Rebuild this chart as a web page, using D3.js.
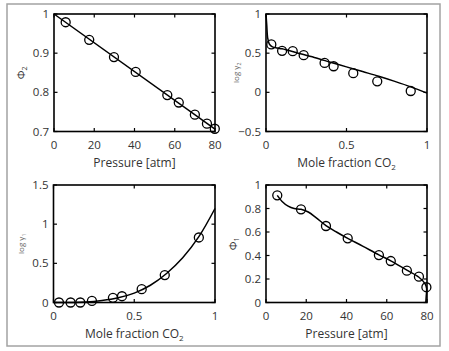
<!DOCTYPE html>
<html><head><meta charset="utf-8">
<script src="https://cdn.jsdelivr.net/npm/d3@7"></script>
<style>body{margin:0;background:#fff}svg{display:block}</style>
</head><body>
<svg id="c" width="449" height="351"></svg>
<script>
// Panel A: phi2 vs pressure
const pA_px = [5.8, 17.5, 29.8, 40.6, 56.3, 62, 70, 76, 79.9];
const pA_py = [0.979, 0.934, 0.890, 0.852, 0.793, 0.774, 0.743, 0.720, 0.707];
const pA_lx = [0, 80];
const pA_ly = [1.0, 0.706];
// Panel B: log gamma2 vs mole fraction
const pB_px = [0.033, 0.10, 0.166, 0.234, 0.364, 0.42, 0.542, 0.691, 0.899];
const pB_py = [0.612, 0.53, 0.526, 0.474, 0.376, 0.333, 0.244, 0.141, 0.017];
const pB_lx = [0, 0.005, 0.01, 0.02, 0.04, 0.07, 0.1, 0.2, 0.3, 0.4, 0.5, 0.6, 0.7, 0.8, 0.9, 1.0];
const pB_ly = [1.0, 0.85, 0.7, 0.62, 0.58, 0.565, 0.555, 0.50, 0.445, 0.385, 0.325, 0.265, 0.205, 0.14, 0.07, -0.01];
// Panel C: log gamma1 vs mole fraction
const pC_px = [0.034, 0.106, 0.166, 0.238, 0.368, 0.424, 0.546, 0.689, 0.90];
const pC_py = [0.0, 0.0, 0.0, 0.02, 0.06, 0.08, 0.17, 0.35, 0.83];
const pC_lx = [0, 0.1, 0.2, 0.3, 0.4, 0.5, 0.6, 0.7, 0.8, 0.9, 1.0];
const pC_ly = [0, 0.0, 0.005, 0.025, 0.06, 0.12, 0.22, 0.37, 0.57, 0.84, 1.2];
// Panel D: phi1 vs pressure
const pD_px = [5.6, 17.4, 29.8, 40.6, 56.1, 62, 70, 76, 79.7];
const pD_py = [0.912, 0.793, 0.651, 0.546, 0.404, 0.353, 0.271, 0.22, 0.13];
const pD_lx = [5.6, 8, 11, 14, 17.4, 21, 25, 29.8, 35, 40.6, 48, 56.1, 62, 70, 76, 79, 79.8, 79.6, 79.4];
const pD_ly = [0.912, 0.86, 0.82, 0.80, 0.793, 0.77, 0.72, 0.655, 0.60, 0.546, 0.48, 0.405, 0.355, 0.275, 0.215, 0.16, 0.12, 0.05, 0.0];

const ticksP = [0, 20, 40, 60, 80];
const ticksMF = [0, 0.5, 1];
const ticksA_y = [0.7, 0.8, 0.9, 1];
const ticksB_y = [-0.5, 0, 0.5, 1];
const ticksC_y = [0, 0.5, 1, 1.5];
const ticksD_y = [0, 0.2, 0.4, 0.6, 0.8, 1];

const svg = d3.select("#c");
const FONT = "'Open Sans', sans-serif";

svg.append("rect").attr("x", 7).attr("y", 4).attr("width", 433).attr("height", 342)
  .attr("fill", "none").attr("stroke", "#a3a3a3").attr("stroke-width", 1.5);

const fmt = v => (v < 0 ? "\u2212" : "") + String(Math.abs(v));

function panel(o) {
  const g = svg.append("g");
  const x = d3.scaleLinear().domain(o.xd).range([o.x0, o.x1]);
  const y = d3.scaleLinear().domain(o.yd).range([o.y1, o.y0]);
  const tl = 3.5;
  // ticks inward, all sides
  o.xt.forEach(t => {
    const px = x(t);
    g.append("line").attr("x1", px).attr("x2", px).attr("y1", o.y1).attr("y2", o.y1 - tl).attr("stroke", "#000").attr("stroke-width", 1.2);
    g.append("line").attr("x1", px).attr("x2", px).attr("y1", o.y0).attr("y2", o.y0 + tl).attr("stroke", "#000").attr("stroke-width", 1.2);
    g.append("text").attr("x", px).attr("y", o.y1 + 17).attr("text-anchor", "middle")
      .attr("font-family", FONT).attr("font-size", 11.5).attr("fill", "#333").text(fmt(t));
  });
  o.yt.forEach(t => {
    const py = y(t);
    g.append("line").attr("x1", o.x0).attr("x2", o.x0 + tl).attr("y1", py).attr("y2", py).attr("stroke", "#000").attr("stroke-width", 1.2);
    g.append("line").attr("x1", o.x1).attr("x2", o.x1 - tl).attr("y1", py).attr("y2", py).attr("stroke", "#000").attr("stroke-width", 1.2);
    g.append("text").attr("x", o.x0 - 5).attr("y", py + 4).attr("text-anchor", "end")
      .attr("font-family", FONT).attr("font-size", 11.5).attr("fill", "#333").text(fmt(t));
  });
  // line
  const pts = o.lx.map((v, i) => [v, o.ly[i]]);
  g.append("path").attr("d", d3.line().x(d => x(d[0])).y(d => y(d[1])).curve(d3.curveCatmullRom.alpha(0.5))(pts))
    .attr("fill", "none").attr("stroke", "#000").attr("stroke-width", 1.5);
  // circles
  o.px.forEach((v, i) => {
    g.append("circle").attr("cx", x(v)).attr("cy", y(o.py[i])).attr("r", 4.5)
      .attr("fill", "none").attr("stroke", "#000").attr("stroke-width", 1.3);
  });
  // box
  g.append("rect").attr("x", o.x0).attr("y", o.y0).attr("width", o.x1 - o.x0).attr("height", o.y1 - o.y0)
    .attr("fill", "none").attr("stroke", "#000").attr("stroke-width", 1.6);
  // x label
  const xl = g.append("text").attr("x", (o.x0 + o.x1) / 2).attr("y", o.y1 + 35).attr("text-anchor", "middle")
    .attr("font-family", FONT).attr("font-size", 12).attr("fill", "#333");
  xl.append("tspan").text(o.xlab[0]);
  if (o.xlab[1]) xl.append("tspan").attr("font-size", 8).attr("dy", 3).text(o.xlab[1]);
  // y label
  const yl = g.append("text").attr("transform", `translate(${o.ylx},${(o.y0 + o.y1) / 2}) rotate(-90)`)
    .attr("text-anchor", "middle").attr("font-family", FONT).attr("font-size", o.ylfs).attr("fill", o.ylc);
  yl.append("tspan").text(o.ylab[0]);
  yl.append("tspan").attr("font-size", o.ylfs * 0.65).attr("dy", 2).text(o.ylab[1]);
}

panel({x0: 54, x1: 215, y0: 14, y1: 131.5, xd: [0, 80], yd: [0.7, 1], xt: ticksP, yt: ticksA_y,
  px: pA_px, py: pA_py, lx: pA_lx, ly: pA_ly, xlab: ["Pressure [atm]"], ylab: ["\u03A6", "2"], ylx: 25, ylfs: 11, ylc: "#333"});
panel({x0: 266, x1: 427, y0: 14, y1: 131.5, xd: [0, 1], yd: [-0.5, 1], xt: ticksMF, yt: ticksB_y,
  px: pB_px, py: pB_py, lx: pB_lx, ly: pB_ly, xlab: ["Mole fraction CO", "2"], ylab: ["log \u03B3", "2"], ylx: 239, ylfs: 8, ylc: "#666"});
panel({x0: 53.5, x1: 215, y0: 185, y1: 302.5, xd: [0, 1], yd: [0, 1.5], xt: ticksMF, yt: ticksC_y,
  px: pC_px, py: pC_py, lx: pC_lx, ly: pC_ly, xlab: ["Mole fraction CO", "2"], ylab: ["log \u03B3", "1"], ylx: 24, ylfs: 8, ylc: "#666"});
panel({x0: 266, x1: 427, y0: 185, y1: 302.5, xd: [0, 80], yd: [0, 1], xt: ticksP, yt: ticksD_y,
  px: pD_px, py: pD_py, lx: pD_lx, ly: pD_ly, xlab: ["Pressure [atm]"], ylab: ["\u03A6", "1"], ylx: 237, ylfs: 11, ylc: "#333"});
</script>
</body></html>
